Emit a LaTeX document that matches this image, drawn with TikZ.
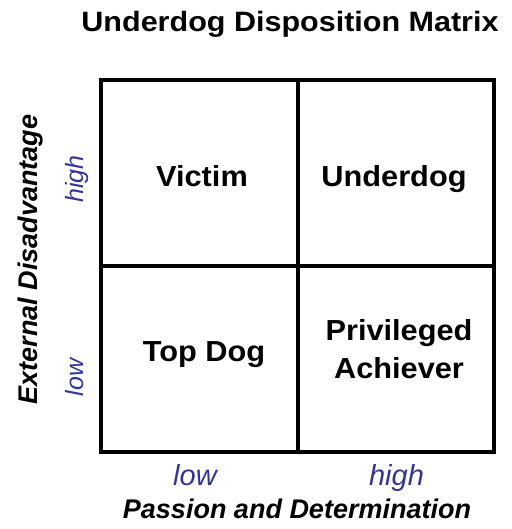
\documentclass[tikz,border=0pt]{standalone}
\usepackage{fontspec}
\setmainfont{Liberation Sans}
\usepackage{tikz}
\definecolor{axisblue}{RGB}{51,51,153}

\begin{document}
\begin{tikzpicture}[x=1pt,y=-1pt,
    cell/.style={font=\fontsize{29}{38}\selectfont\bfseries\addfontfeature{FakeStretch=1.06}, align=center, inner sep=0pt},
    level/.style={font=\fontsize{29}{30}\selectfont\itshape, text=axisblue, inner sep=0pt, anchor=base},
    sidelevel/.style={font=\fontsize{25}{27}\selectfont\itshape, text=axisblue, inner sep=0pt, anchor=base, rotate=90},
    axis/.style={font=\fontsize{27}{29}\selectfont\bfseries\itshape, inner sep=0pt, anchor=base}]
	\useasboundingbox (0,0) rectangle (511,529);

	%% Title
	\node[font=\fontsize{28}{30}\selectfont\bfseries\addfontfeature{FakeStretch=1.09}, inner sep=0pt, anchor=base] (title) at (290,31.7) {Underdog Disposition Matrix};

	%% 2x2 grid
	\coordinate (nw) at (101,80);
	\coordinate (se) at (494,452);
	\coordinate (mid) at (297.5,266);
	\draw[line width=4pt] (nw) rectangle (se);
	\draw[line width=4pt] (mid |- nw) -- (mid |- se);
	\draw[line width=4pt] (nw |- mid) -- (se |- mid);

	%% Quadrants
	\node[cell, anchor=base] (victim) at (202,187) {Victim};
	\node[cell, anchor=base] (underdog) at (394,187) {Underdog};
	\node[cell, anchor=base] (topdog) at (204,361) {Top Dog};
	\node[cell] (achiever) at (399,349) {Privileged\\Achiever};

	%% Axis levels
	\node[level] (xlow) at (195,485) {low};
	\node[level] (xhigh) at (396.5,485) {high};
	\node[sidelevel] (ylow) at (83,377.5) {low};
	\node[sidelevel] (yhigh) at (83,179) {high};

	%% Axis titles
	\node[axis] (xtitle) at (297,518) {Passion and Determination};
	\node[axis, rotate=90] (ytitle) at (37,259.5) {External Disadvantage};
\end{tikzpicture}
\end{document}
